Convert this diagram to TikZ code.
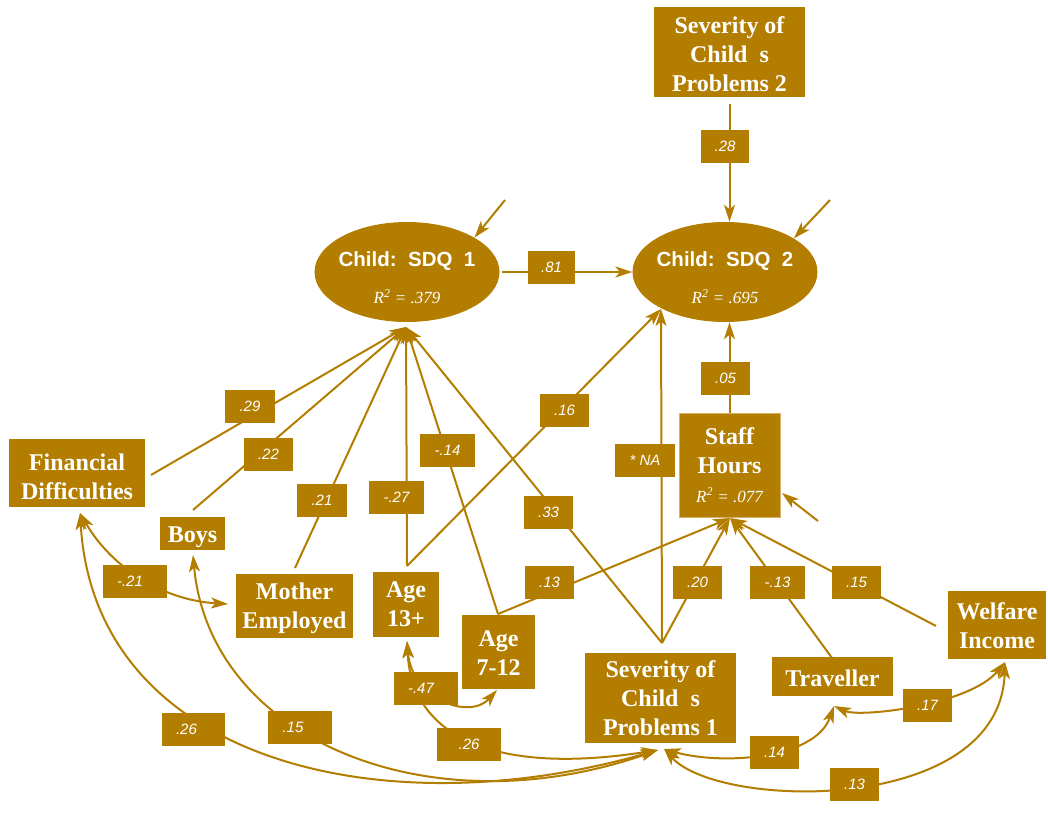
\documentclass[tikz,border=0pt]{standalone}
\usepackage{fontspec}
\setmainfont{Liberation Serif}
\setsansfont{Liberation Sans}
\usetikzlibrary{shapes.geometric,arrows.meta}
\definecolor{gold}{RGB}{179,125,0}
\definecolor{lightrim}{RGB}{214,176,100}
\tikzset{
  var/.style={fill=gold, text=white, inner sep=0pt, align=center, font=\fontsize{24}{29}\selectfont\bfseries},
  vtxt/.style={text=white, inner sep=0pt, align=center, font=\fontsize{24}{29}\selectfont\bfseries},
  lat/.style={ellipse, fill=gold, inner sep=0pt, minimum width=185pt, minimum height=100pt},
  ltxt/.style={text=white, inner sep=0pt, font=\fontsize{20.5}{24}\selectfont\sffamily\bfseries},
  rtxt/.style={text=white, inner sep=0pt, font=\fontsize{17}{20}\selectfont\itshape},
  lab/.style={fill=gold, text=white, inner sep=0pt, minimum height=33pt, minimum width=49pt, font=\fontsize{15}{18}\selectfont\sffamily\itshape},
  tip/.tip={Stealth[length=17pt,width=11pt,inset=4.5pt]},
  arr/.style={draw=gold, line width=2pt, -tip},
  cov/.style={draw=gold, line width=2pt, tip-tip},
}
\begin{document}
\begin{tikzpicture}[x=1pt,y=-1pt]
\useasboundingbox (0,0) rectangle (1048,813);

% ---------- variables ----------
\node[var, minimum width=151pt, minimum height=90pt] (sev2) at (729.5,52) {};
\node[vtxt] (sev2t) at (729.5,54) {Severity of\\Child\ \ s\\Problems 2};
\node[lat] (sdq1) at (407,272) {};
\node[lat] (sdq2) at (725,272) {};
\node[ltxt] (sdq1t) at (407,261) {Child:\ \ SDQ\ \ 1};
\node[rtxt] (sdq1r) at (407,297) {R\textsuperscript{2} = .379};
\node[ltxt] (sdq2t) at (725,261) {Child:\ \ SDQ\ \ 2};
\node[rtxt] (sdq2r) at (725,297) {R\textsuperscript{2} = .695};

\node[var, minimum width=136pt, minimum height=68pt] (fin) at (77,473) {};
\node[vtxt] (fint) at (77,477) {Financial\\Difficulties};
\node[var, minimum width=65pt, minimum height=33pt] (boys) at (192.5,533.5) {};
\node[vtxt, anchor=base] (boyst) at (192.5,542) {Boys};
\node[var, minimum width=117pt, minimum height=64pt] (moth) at (294.5,606) {};
\node[vtxt] (motht) at (294.5,608) {Mother\\Employed};
\node[var, minimum width=66pt, minimum height=65pt] (a13) at (406,604.5) {Age\\13+};
\node[var, minimum width=73pt, minimum height=74pt] (a712) at (498.5,652) {};
\node[vtxt] (a712t0) at (498.5,653) {Age\\7-12};
\node[var, minimum width=101pt, minimum height=104pt, draw=lightrim, line width=0.8pt] (staff) at (729.5,465) {};
\node[vtxt, anchor=base] (stafft1) at (729.5,444) {Staff};
\node[vtxt, anchor=base] (stafft2) at (729.5,473) {Hours};
\node[rtxt, anchor=base] (staffr) at (729.5,502) {R\textsuperscript{2} = .077};
\node[var, minimum width=151pt, minimum height=90pt] (sev1) at (660.5,698) {Severity of\\Child\ \ s\\Problems 1};
\node[var, minimum width=121pt, minimum height=39pt] (trav) at (832.5,676.5) {};
\node[vtxt, anchor=base] (travt) at (832.5,686) {Traveller};
\node[var, minimum width=98pt, minimum height=68pt] (welf) at (997,625) {};
\node[vtxt] (welft) at (997,626) {Welfare\\Income};

% ---------- connection points ----------
\coordinate (p1) at (406,327);
\coordinate (p2) at (661,309);
\coordinate (p3) at (730,518);
\coordinate (a13t) at (407,566);
\coordinate (a712t) at (498,614);
\coordinate (s1t) at (662,643);
\coordinate (fin1) at (151,475);
\coordinate (boys1) at (193,510);
\coordinate (moth1) at (295,568);
\coordinate (trav1) at (832,658);
\coordinate (welf1) at (936,626);

\coordinate (finb) at (80,513);
\coordinate (boysb) at (193,555);
\coordinate (mothl) at (228,604);
\coordinate (a13b) at (407,641);
\coordinate (a712b) at (497,690);
\coordinate (sev1bl) at (658,750);
\coordinate (sev1br) at (664,749);
\coordinate (travb) at (834,706);
\coordinate (welfb) at (1005,662);

\coordinate (e1) at (505,200);
\coordinate (e2) at (830,200);
\coordinate (e3) at (818,521);
\coordinate (e3t) at (782,493);

% ---------- paths ----------
\draw[arr, shorten <=7pt] (sev2.south) -- (sev2.south |- sdq2.north);
\draw[arr, shorten <=2pt] (sdq1.east) -- (sdq2.west);
\draw[arr] (e1) -- (sdq1.27);
\draw[arr] (e2) -- (sdq2.26);
\draw[arr] (e3) -- (e3t);
\draw[arr] (staff.north) -- (staff.north |- sdq2.south);

\draw[arr] (fin1) -- (p1);
\draw[arr] (boys1) -- (p1);
\draw[arr] (moth1) -- (p1);
\draw[arr] (a13t) -- (p1);
\draw[arr] (a712t) -- (p1);
\draw[arr] (s1t) -- (p1);
\draw[arr] (a13t) -- (p2);
\draw[arr] (s1t) -- (p2);
\draw[arr] (a712t) -- (p3);
\draw[arr] (s1t) -- (p3);
\draw[arr] (trav1) -- (p3);
\draw[arr] (welf1) -- (p3);

\draw[cov] (finb) .. controls (110,565) and (160,600) .. (mothl);
\draw[cov] (finb) .. controls (95,760) and (380,830) .. (sev1bl);
\draw[cov] (boysb) .. controls (210,740) and (430,830) .. (sev1bl);
\draw[cov] (a13b) .. controls (412,700) and (470,720) .. (a712b);
\draw[cov] (a13b) .. controls (412,740) and (500,775) .. (sev1bl);
\draw[cov] (sev1br) .. controls (720,765) and (815,760) .. (travb);
\draw[cov] (travb) .. controls (860,718) and (970,705) .. (welfb);
\draw[cov] (sev1br) .. controls (720,810) and (1000,815) .. (welfb);

% ---------- coefficient labels ----------
\node[lab, minimum width=48pt] (l28) at (725,146.5) {.28};
\node[lab, minimum width=47pt] (l81) at (551.5,267.5) {.81};
\node[lab, minimum width=50pt] (l29) at (250,406) {.29};
\node[lab] (l22) at (268.5,454) {.22};
\node[lab, minimum width=50pt] (l21) at (322,500) {.21};
\node[lab, minimum width=55pt] (l27) at (396.5,497) {-.27};
\node[lab, minimum width=55pt] (l14) at (447.5,450.5) {-.14};
\node[lab] (l16) at (564.5,410) {.16};
\node[lab] (l33) at (548.5,512.5) {.33};
\node[lab, minimum width=60pt] (lna) at (645,460) {* NA};
\node[lab] (l05) at (725.5,378) {.05};
\node[lab] (l13a) at (549.5,582.5) {.13};
\node[lab] (l20) at (697.5,582.5) {.20};
\node[lab, minimum width=55pt] (l13b) at (777.5,582.5) {-.13};
\node[lab] (l15a) at (856.5,582.5) {.15};
\node[lab, minimum width=64pt] (lm21) at (135,581) {-.21\hspace*{10pt}};
\node[lab, minimum width=63pt] (l26a) at (193.5,729) {.26\hspace*{14pt}};
\node[lab, minimum width=64pt] (l15b) at (300,727) {.15\hspace*{14pt}};
\node[lab, minimum width=64pt] (l47) at (426,688) {-.47\hspace*{10pt}};
\node[lab, minimum width=64pt] (l26b) at (469,744) {.26};
\node[lab] (l14b) at (774.5,752.5) {.14};
\node[lab] (l17) at (927.5,705.5) {.17};
\node[lab] (l13c) at (854.5,784.5) {.13};
\end{tikzpicture}
\end{document}
